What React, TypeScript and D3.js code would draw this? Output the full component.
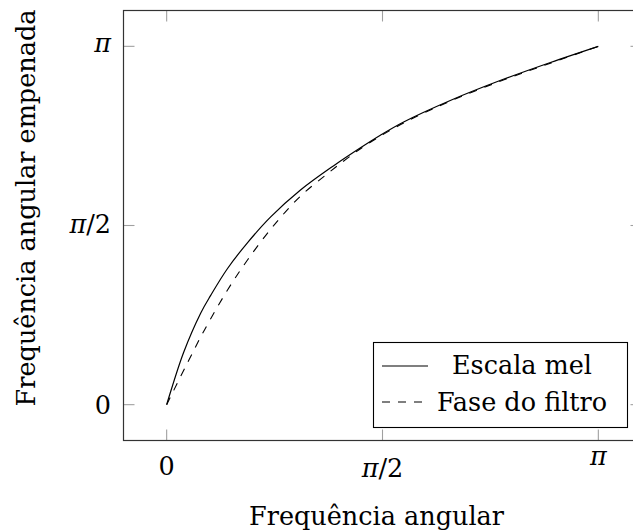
import React from "react";
import * as d3 from "d3";

// Frequencies in units of π
const melX = [0, 0.005, 0.039, 0.079, 0.102, 0.141, 0.188, 0.241, 0.31, 0.387, 0.449, 0.495, 0.549, 0.657, 0.78, 0.889, 1];
const melY = [0, 0.02, 0.145, 0.256, 0.305, 0.38, 0.453, 0.524, 0.599, 0.667, 0.717, 0.752, 0.789, 0.849, 0.908, 0.955, 1];
const faseX = [0, 0.016, 0.06, 0.086, 0.141, 0.188, 0.248, 0.31, 0.373, 0.419, 0.465, 0.549, 0.657, 0.78, 0.889, 1];
const faseY = [0, 0.039, 0.145, 0.205, 0.32, 0.405, 0.5, 0.582, 0.645, 0.688, 0.727, 0.786, 0.847, 0.906, 0.953, 1];

const tickValues = [0, 0.5, 1];
const tickLabels = ["0", "π/2", "π"];
const legendLabels = ["Escala mel", "Fase do filtro"];

const W = 633;
const H = 530;
const FONT = "'DejaVu Serif', serif";
const FS = 25.5;

// baseline offsets for tick labels (labels have different heights/depths)
const yLabelShift: Record<string, number> = { "0": 9, "π/2": 7, "π": 6 };
const xLabelBaseline: Record<string, number> = { "0": 475, "π/2": 477, "π": 465 };

export default function App() {
  const x = d3.scaleLinear().domain([-0.1, 1.1]).range([123.5, 641.5]);
  const y = d3.scaleLinear().domain([-0.1, 1.1]).range([440.5, 10.5]);

  const line = d3
    .line<[number, number]>()
    .x((d) => x(d[0]))
    .y((d) => y(d[1]))
    .curve(d3.curveCatmullRom.alpha(0.5));

  const melPts = melX.map((v, i) => [v, melY[i]] as [number, number]);
  const fasePts = faseX.map((v, i) => [v, faseY[i]] as [number, number]);

  const [x0, x1] = x.range();
  const [y0, y1] = y.range();
  const tickLen = 11;

  const renderLabel = (s: string) => {
    if (s === "0") return "0";
    if (s === "π") return <tspan fontStyle="italic">π</tspan>;
    return (
      <>
        <tspan fontStyle="italic">π</tspan>
        <tspan>/2</tspan>
      </>
    );
  };

  return (
    <svg
      width={W}
      height={H}
      style={{ position: "absolute", left: 0, top: 0, background: "#fff" }}
      fontFamily={FONT}
    >
      <rect width={W} height={H} fill="#fff" />

      {/* ticks on all four sides, pointing inward */}
      <g stroke="#a0a0a0" strokeWidth={1.1}>
        {tickValues.map((v) => (
          <g key={"xt" + v}>
            <line x1={x(v)} x2={x(v)} y1={y0} y2={y0 - tickLen} />
            <line x1={x(v)} x2={x(v)} y1={y1} y2={y1 + tickLen} />
          </g>
        ))}
        {tickValues.map((v) => (
          <g key={"yt" + v}>
            <line x1={x0} x2={x0 + tickLen} y1={y(v)} y2={y(v)} />
            <line x1={x1} x2={x1 - tickLen} y1={y(v)} y2={y(v)} />
          </g>
        ))}
      </g>

      {/* curves */}
      <path d={line(melPts) || ""} fill="none" stroke="#000" strokeWidth={1.2} />
      <path
        d={line(fasePts) || ""}
        fill="none"
        stroke="#000"
        strokeWidth={1.1}
        strokeDasharray="8 8"
      />

      {/* axis frame */}
      <rect
        x={x0}
        y={y1}
        width={x1 - x0}
        height={y0 - y1}
        fill="none"
        stroke="#333"
        strokeWidth={1.2}
      />

      {/* tick labels */}
      <g fontSize={FS} fill="#000">
        {tickValues.map((v, i) => (
          <text key={"xl" + v} x={x(v)} y={xLabelBaseline[tickLabels[i]]} textAnchor="middle">
            {renderLabel(tickLabels[i])}
          </text>
        ))}
        {tickValues.map((v, i) => (
          <text key={"yl" + v} x={111} y={y(v) + yLabelShift[tickLabels[i]]} textAnchor="end">
            {renderLabel(tickLabels[i])}
          </text>
        ))}
      </g>

      {/* axis titles */}
      <text x={376.5} y={525} textAnchor="middle" fontSize={FS}>
        Frequência angular
      </text>
      <text
        transform={`translate(35, 208) rotate(-90)`}
        textAnchor="middle"
        fontSize={FS}
      >
        Frequência angular empenada
      </text>

      {/* legend */}
      <g>
        <rect x={373.5} y={342.5} width={254} height={85} fill="#fff" stroke="#000" strokeWidth={1.1} />
        <line x1={382} x2={428} y1={366} y2={366} stroke="#000" strokeWidth={1.1} />
        <line x1={382} x2={428} y1={402} y2={402} stroke="#000" strokeWidth={1.1} strokeDasharray="8 8" />
        <text x={522} y={374} textAnchor="middle" fontSize={FS}>
          {legendLabels[0]}
        </text>
        <text x={522} y={411} textAnchor="middle" fontSize={FS}>
          {legendLabels[1]}
        </text>
      </g>
    </svg>
  );
}
